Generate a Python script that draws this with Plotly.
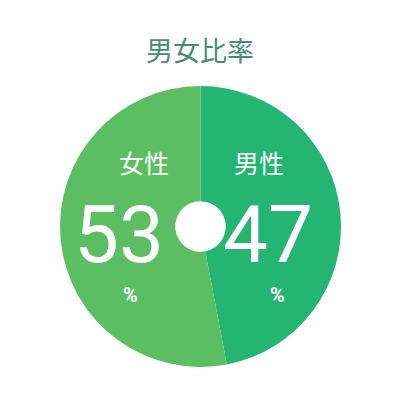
import plotly.graph_objects as go

title = "男女比率"
labels = ["男性", "女性"]
values = [47, 53]
colors = ["#24B573", "#5CBE63"]

W = H = 400
OX = OY = 8  # page body margin compensation

def fx(x):
    return (x - OX) / W

def fy(y):
    return 1 - (y - OY) / H

fig = go.Figure()
fig.add_trace(go.Pie(
    labels=labels, values=values, sort=False, direction="clockwise", rotation=0,
    marker=dict(colors=colors, line=dict(width=0)), hole=0.18,
    textinfo="none", hoverinfo="skip", showlegend=False,
    domain=dict(x=[fx(60), fx(341)], y=[fy(367), fy(86)]),
))

ann = []
ann.append(dict(x=fx(200), y=fy(50), text=title, showarrow=False, xanchor="center", yanchor="middle",
                font=dict(family="Noto Sans CJK JP", size=27, color="#4A8A7A")))
pos = {"男性": (259, 268, 277), "女性": (144, 119, 130)}
for lab, v in zip(labels, values):
    lx, nx, pcx = pos[lab]
    ann.append(dict(x=fx(lx), y=fy(162), text=lab, showarrow=False, xanchor="center", yanchor="middle",
                    font=dict(family="Noto Sans CJK JP", size=25, color="white")))
    ann.append(dict(x=fx(nx), y=fy(235), text=str(v), showarrow=False, xanchor="center", yanchor="middle",
                    font=dict(family="Roboto", size=80, color="white")))
    ann.append(dict(x=fx(pcx), y=fy(295), text="<b>%</b>", showarrow=False, xanchor="center", yanchor="middle",
                    font=dict(family="Roboto", size=20, color="white")))

fig.update_layout(width=W, height=H, margin=dict(l=0, r=0, t=0, b=0),
                  paper_bgcolor="white", plot_bgcolor="white", annotations=ann)
fig.write_html("out.html")
